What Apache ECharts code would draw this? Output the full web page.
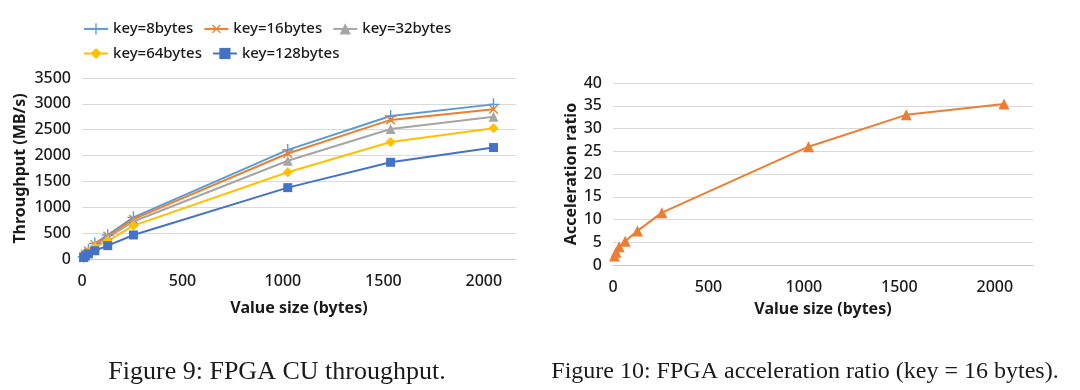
<!DOCTYPE html>
<html>
<head>
<meta charset="utf-8">
<script src="https://cdn.jsdelivr.net/npm/echarts@6/dist/echarts.min.js"></script>
<style>
html,body{margin:0;padding:0;background:#fff;}
#c{width:1080px;height:390px;}
</style>
</head>
<body>
<div id="c"></div>
<script>
// ---- data ----
const valueSizes = [8, 16, 32, 64, 128, 256, 1024, 1536, 2048];
const seriesNames = ['key=8bytes', 'key=16bytes', 'key=32bytes', 'key=64bytes', 'key=128bytes'];
const key8   = [45, 90, 170, 300, 465, 805, 2110, 2765, 2990];
const key16  = [42, 85, 160, 280, 445, 770, 2040, 2690, 2895];
const key32  = [40, 80, 150, 262, 415, 725, 1900, 2515, 2752];
const key64  = [35, 70, 130, 228, 350, 645, 1678, 2263, 2528];
const key128 = [30, 55, 100, 160, 258, 465, 1380, 1870, 2155];
const accelRatio = [2.0, 2.8, 4.0, 5.2, 7.5, 11.5, 26.0, 33.0, 35.4];
const leftYTicks = [0, 500, 1000, 1500, 2000, 2500, 3000, 3500];
const rightYTicks = [0, 5, 10, 15, 20, 25, 30, 35, 40];
const xTicks = [0, 500, 1000, 1500, 2000];
const caption1 = 'Figure 9: FPGA CU throughput.';
const caption2 = 'Figure 10: FPGA acceleration ratio (key = 16 bytes).';

const pairs = (ys) => valueSizes.map((x, i) => [x, ys[i]]);
const plusPath = 'path://M4.4,0 L5.6,0 L5.6,4.4 L10,4.4 L10,5.6 L5.6,5.6 L5.6,10 L4.4,10 L4.4,5.6 L0,5.6 L0,4.4 L4.4,4.4 Z';
const colors = ['#5B9BD5', '#ED7D31', '#A5A5A5', '#FFC000', '#4472C4'];
const symbols = [plusPath, plusPath, 'triangle', 'diamond', 'rect'];
const symbolSizes = [12, 12, 10, 10, 9];
const symbolRotates = [0, 45, 0, 0, 0];
const allSeries = [key8, key16, key32, key64, key128];

const FONT = 'Noto Sans';
const labelStyle = { fontFamily: FONT, fontSize: 16, fontWeight: 500, color: '#1a1a1a' };
const nameStyle = { fontFamily: FONT, fontSize: 16, fontWeight: 'bold', color: '#1a1a1a' };
const gridLine = { show: true, lineStyle: { color: '#D9D9D9', width: 1 } };

function xAxisDef(gridIndex, max, nameGap) {
  return {
    type: 'value', gridIndex, min: 0, max, interval: 500,
    name: 'Value size (bytes)', nameLocation: 'middle', nameGap, nameTextStyle: nameStyle,
    axisLine: { show: true, onZero: false, lineStyle: { color: '#C8C8C8' } },
    axisTick: { show: false },
    splitLine: { show: false },
    axisLabel: Object.assign({ margin: 14, showMaxLabel: false,
      formatter: v => xTicks.includes(v) ? String(v) : '' }, labelStyle)
  };
}

const chart = echarts.init(document.getElementById('c'), null, { renderer: 'canvas' });

const series = allSeries.map((ys, i) => ({
  name: seriesNames[i], type: 'line', xAxisIndex: 0, yAxisIndex: 0,
  data: pairs(ys), symbol: symbols[i], symbolSize: symbolSizes[i], symbolRotate: symbolRotates[i],
  showAllSymbol: true,
  itemStyle: { color: colors[i] }, lineStyle: { color: colors[i], width: 2 }
}));
series.push({
  name: 'accel', type: 'line', xAxisIndex: 1, yAxisIndex: 1,
  data: pairs(accelRatio), symbol: 'triangle', symbolSize: 11,
  itemStyle: { color: '#ED7D31' }, lineStyle: { color: '#ED7D31', width: 2 }
});

const legendText = { fontFamily: FONT, fontSize: 15, fontWeight: 500, color: '#1a1a1a' };

chart.setOption({
  animation: false,
  backgroundColor: '#fff',
  legend: [
    { data: seriesNames.slice(0, 3), left: 83, top: 21, padding: 0, itemWidth: 24, itemHeight: 14, itemGap: 10,
      textStyle: legendText },
    { data: seriesNames.slice(3), left: 83, top: 46, padding: 0, itemWidth: 24, itemHeight: 14, itemGap: 10,
      textStyle: legendText }
  ],
  grid: [
    { left: 82, top: 78, width: 434, height: 181 },
    { left: 613, top: 83, width: 420, height: 182 }
  ],
  xAxis: [xAxisDef(0, 2160, 41), xAxisDef(1, 2200, 36)],
  yAxis: [
    { type: 'value', gridIndex: 0, min: leftYTicks[0], max: leftYTicks[leftYTicks.length - 1], interval: 500,
      name: 'Throughput (MB/s)', nameLocation: 'middle', nameGap: 54, nameTextStyle: nameStyle,
      axisLine: { show: false }, axisTick: { show: false }, splitLine: gridLine,
      axisLabel: Object.assign({ margin: 11, formatter: v => String(v) }, labelStyle) },
    { type: 'value', gridIndex: 1, min: rightYTicks[0], max: rightYTicks[rightYTicks.length - 1], interval: 5,
      name: 'Acceleration ratio', nameLocation: 'middle', nameGap: 29, nameTextStyle: nameStyle,
      axisLine: { show: false }, axisTick: { show: false }, splitLine: gridLine,
      axisLabel: Object.assign({ margin: 11, formatter: v => String(v) }, labelStyle) }
  ],
  series,
  graphic: [
    { type: 'text', x: 277, y: 372, style: { text: caption1, font: '26px "Liberation Serif"', fill: '#1a1a1a', textAlign: 'center', textVerticalAlign: 'middle' } },
    { type: 'text', x: 805, y: 372, style: { text: caption2, font: '24px "Liberation Serif"', fill: '#1a1a1a', textAlign: 'center', textVerticalAlign: 'middle' } }
  ]
});
</script>
</body>
</html>
